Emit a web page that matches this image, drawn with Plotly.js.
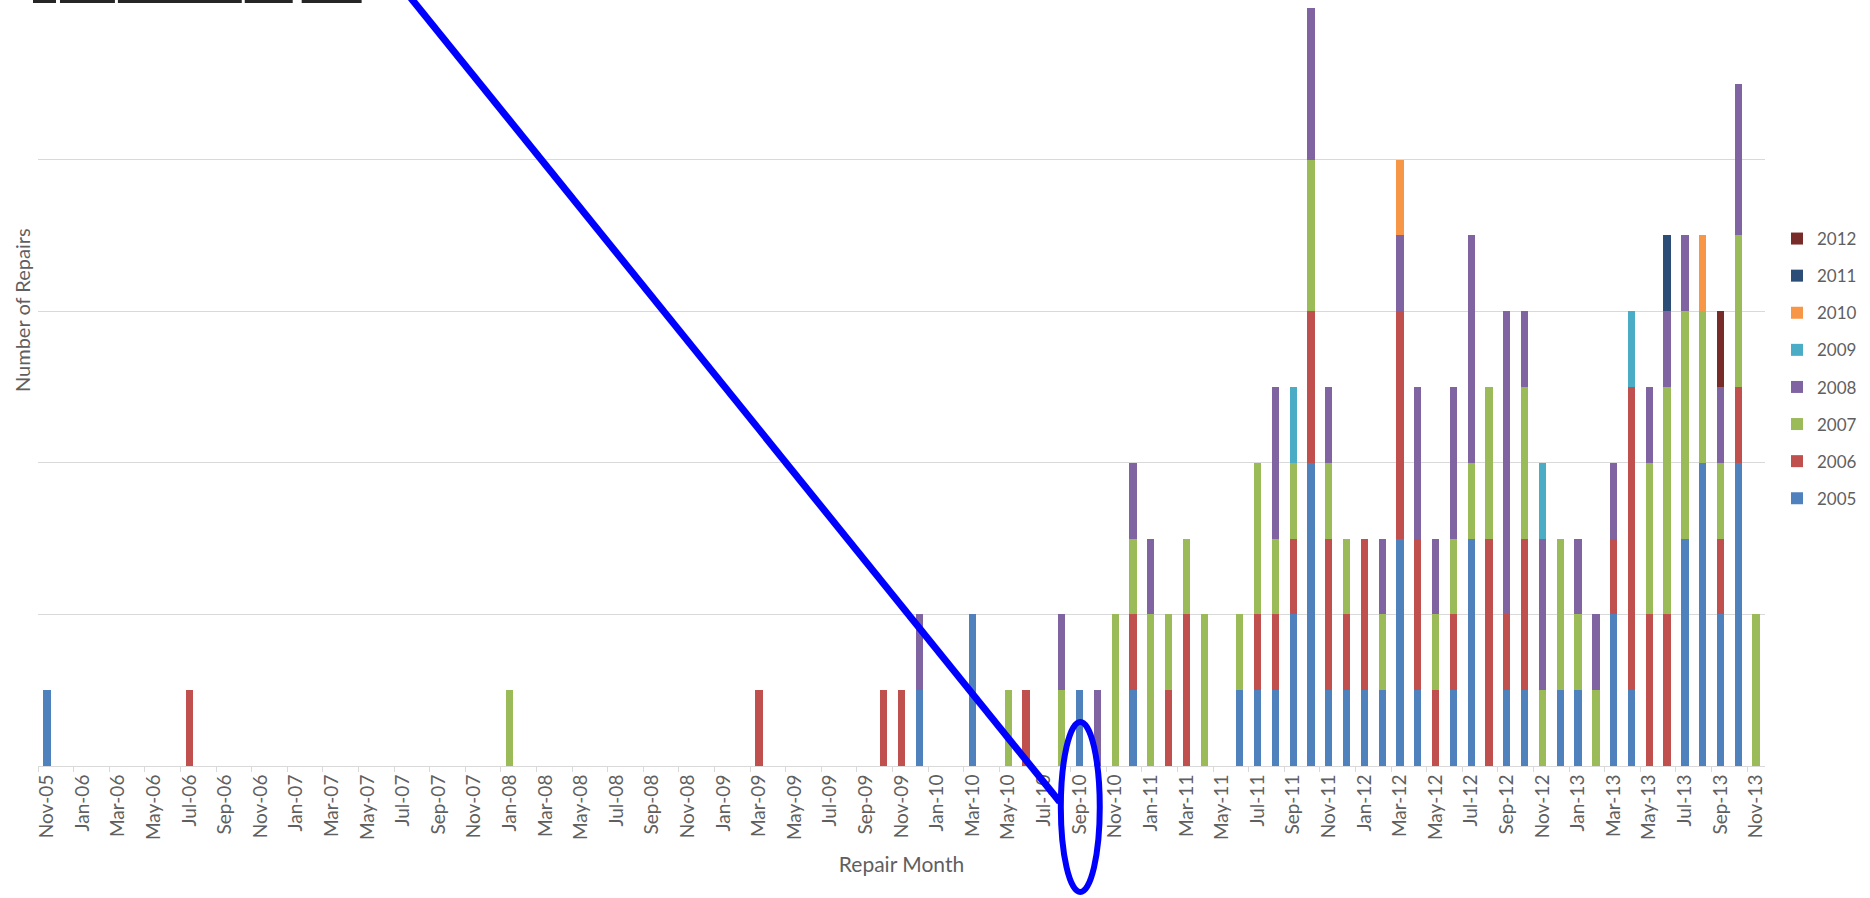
<!DOCTYPE html>
<html>
<head>
<meta charset="utf-8">
<script src="https://cdn.plot.ly/plotly-3.0.1.min.js"></script>
<style>html,body{margin:0;padding:0;background:#fff;}#chart{width:1870px;height:898px;}</style>
</head>
<body>
<div id="chart"></div>
<script>
const months = ["Nov-05","Dec-05","Jan-06","Feb-06","Mar-06","Apr-06","May-06","Jun-06","Jul-06","Aug-06",
"Sep-06","Oct-06","Nov-06","Dec-06","Jan-07","Feb-07","Mar-07","Apr-07","May-07","Jun-07",
"Jul-07","Aug-07","Sep-07","Oct-07","Nov-07","Dec-07","Jan-08","Feb-08","Mar-08","Apr-08",
"May-08","Jun-08","Jul-08","Aug-08","Sep-08","Oct-08","Nov-08","Dec-08","Jan-09","Feb-09",
"Mar-09","Apr-09","May-09","Jun-09","Jul-09","Aug-09","Sep-09","Oct-09","Nov-09","Dec-09",
"Jan-10","Feb-10","Mar-10","Apr-10","May-10","Jun-10","Jul-10","Aug-10","Sep-10","Oct-10",
"Nov-10","Dec-10","Jan-11","Feb-11","Mar-11","Apr-11","May-11","Jun-11","Jul-11","Aug-11",
"Sep-11","Oct-11","Nov-11","Dec-11","Jan-12","Feb-12","Mar-12","Apr-12","May-12","Jun-12",
"Jul-12","Aug-12","Sep-12","Oct-12","Nov-12","Dec-12","Jan-13","Feb-13","Mar-13","Apr-13",
"May-13","Jun-13","Jul-13","Aug-13","Sep-13","Oct-13","Nov-13"];

const y2005 = [1,0,0,0,0,0,0,0,0,0, 0,0,0,0,0,0,0,0,0,0, 0,0,0,0,0,0,0,0,0,0, 0,0,0,0,0,0,0,0,0,0,
0,0,0,0,0,0,0,0,0,1, 0,0,2,0,0,0,0,0,1,0, 0,1,0,0,0,0,0,1,1,1, 2,4,1,1,1,1,3,1,0,1,
3,0,1,1,0,1,1,0,2,1, 0,0,3,4,2,4,0];
const y2006 = [0,0,0,0,0,0,0,0,1,0, 0,0,0,0,0,0,0,0,0,0, 0,0,0,0,0,0,0,0,0,0, 0,0,0,0,0,0,0,0,0,0,
1,0,0,0,0,0,0,1,1,0, 0,0,0,0,0,1,0,0,0,0, 0,1,0,1,2,0,0,0,1,1, 1,2,2,1,2,0,3,2,1,1,
0,3,1,2,0,0,0,0,1,4, 2,2,0,0,1,1,0];
const y2007 = [0,0,0,0,0,0,0,0,0,0, 0,0,0,0,0,0,0,0,0,0, 0,0,0,0,0,0,1,0,0,0, 0,0,0,0,0,0,0,0,0,0,
0,0,0,0,0,0,0,0,0,0, 0,0,0,0,1,0,0,1,0,0, 2,1,2,1,1,2,0,1,2,1, 1,2,1,1,0,1,0,0,1,1,
1,2,0,2,1,2,1,1,0,0, 2,3,3,2,1,2,2];
const y2008 = [0,0,0,0,0,0,0,0,0,0, 0,0,0,0,0,0,0,0,0,0, 0,0,0,0,0,0,0,0,0,0, 0,0,0,0,0,0,0,0,0,0,
0,0,0,0,0,0,0,0,0,1, 0,0,0,0,0,0,0,1,0,1, 0,1,1,0,0,0,0,0,0,2, 0,2,1,0,0,1,1,2,1,2,
3,0,4,1,2,0,1,1,1,0, 1,1,1,0,1,2,0];
const y2009 = [0,0,0,0,0,0,0,0,0,0, 0,0,0,0,0,0,0,0,0,0, 0,0,0,0,0,0,0,0,0,0, 0,0,0,0,0,0,0,0,0,0,
0,0,0,0,0,0,0,0,0,0, 0,0,0,0,0,0,0,0,0,0, 0,0,0,0,0,0,0,0,0,0, 1,0,0,0,0,0,0,0,0,0,
0,0,0,0,1,0,0,0,0,1, 0,0,0,0,0,0,0];
const y2010 = [0,0,0,0,0,0,0,0,0,0, 0,0,0,0,0,0,0,0,0,0, 0,0,0,0,0,0,0,0,0,0, 0,0,0,0,0,0,0,0,0,0,
0,0,0,0,0,0,0,0,0,0, 0,0,0,0,0,0,0,0,0,0, 0,0,0,0,0,0,0,0,0,0, 0,0,0,0,0,0,1,0,0,0,
0,0,0,0,0,0,0,0,0,0, 0,0,0,1,0,0,0];
const y2011 = [0,0,0,0,0,0,0,0,0,0, 0,0,0,0,0,0,0,0,0,0, 0,0,0,0,0,0,0,0,0,0, 0,0,0,0,0,0,0,0,0,0,
0,0,0,0,0,0,0,0,0,0, 0,0,0,0,0,0,0,0,0,0, 0,0,0,0,0,0,0,0,0,0, 0,0,0,0,0,0,0,0,0,0,
0,0,0,0,0,0,0,0,0,0, 0,1,0,0,0,0,0];
const y2012 = [0,0,0,0,0,0,0,0,0,0, 0,0,0,0,0,0,0,0,0,0, 0,0,0,0,0,0,0,0,0,0, 0,0,0,0,0,0,0,0,0,0,
0,0,0,0,0,0,0,0,0,0, 0,0,0,0,0,0,0,0,0,0, 0,0,0,0,0,0,0,0,0,0, 0,0,0,0,0,0,0,0,0,0,
0,0,0,0,0,0,0,0,0,0, 0,0,0,0,1,0,0];

const seriesNames = ["2005","2006","2007","2008","2009","2010","2011","2012"];
const seriesValues = [y2005,y2006,y2007,y2008,y2009,y2010,y2011,y2012];
const seriesColors = ["#4F81BD","#C0504D","#9BBB59","#8064A2","#4BACC6","#F79646","#2C4D75","#772C2A"];

const FONT = "Lato, 'Open Sans', sans-serif";
const GRAY = "#5f5f5f";

const traces = seriesNames.map((name, k) => ({
  type: "bar",
  name: name,
  x: months,
  y: seriesValues[k],
  legendgroup: name,
  legendrank: 1000 - k * 10,
  marker: {color: seriesColors[k], line: {width: 0}},
  hoverinfo: "x+y+name"
}));

// pixel -> paper helpers for the annotation overlay
const L = 38, R = 103, T = 8, B = 132, W = 1870, H = 898;
const PW = W - L - R, PH = H - T - B;
const px = X => (X - L) / PW;
const py = Y => 1 - (Y - T) / PH;

const scribbles = [[33,56],[60,115],[118,242],[245,293],[302,362]];

const shapes = [
  {type: "line", xref: "paper", yref: "paper", x0: px(408), y0: py(-6), x1: px(1061), y1: py(802),
   line: {color: "#0000FF", width: 7}},
  {type: "circle", xref: "paper", yref: "paper", x0: px(1062), x1: px(1101), y0: py(892), y1: py(722),
   line: {color: "#0000FF", width: 6}}
].concat(scribbles.map(s => ({
  type: "rect", xref: "paper", yref: "paper", x0: px(s[0]), x1: px(s[1]), y0: py(3), y1: py(-2),
  fillcolor: "#262626", line: {width: 0}
})));

const layout = {
  width: W, height: H,
  margin: {l: L, r: R, t: T, b: B, pad: 0},
  paper_bgcolor: "#ffffff",
  plot_bgcolor: "#ffffff",
  barmode: "stack",
  bargap: 0.59,
  font: {family: FONT, color: GRAY},
  showlegend: true,
  xaxis: {
    type: "category",
    categoryorder: "array",
    categoryarray: months,
    range: [-0.5, 96.5],
    tick0: 0, dtick: 2,
    tickson: "boundaries",
    ticks: "outside", ticklen: 5, tickcolor: "#D9D9D9", tickwidth: 1,
    tickangle: -90,
    tickfont: {family: FONT, size: 19, color: GRAY},
    showline: true, linecolor: "#D9D9D9", linewidth: 1,
    showgrid: false, zeroline: false,
    fixedrange: true,
    title: {text: "Repair Month", font: {family: FONT, size: 21, color: GRAY}, standoff: 18}
  },
  yaxis: {
    range: [0, 10],
    tick0: 0, dtick: 2,
    showticklabels: false,
    ticks: "",
    showgrid: true, gridcolor: "#D9D9D9", gridwidth: 1,
    zeroline: false, showline: false,
    fixedrange: true
  },
  legend: {
    x: px(1779), xanchor: "left",
    y: py(221), yanchor: "top",
    traceorder: "grouped",
    tracegroupgap: 12,
    font: {family: FONT, size: 17, color: GRAY},
    bgcolor: "rgba(0,0,0,0)", borderwidth: 0
  },
  annotations: [
    {text: "Number of Repairs", xref: "paper", yref: "paper", x: px(22), y: py(310),
     xanchor: "center", yanchor: "middle", textangle: -90, showarrow: false,
     font: {family: FONT, size: 20, color: GRAY}}
  ],
  shapes: shapes
};

Plotly.newPlot("chart", traces, layout, {displayModeBar: false, staticPlot: true});
</script>
</body>
</html>
